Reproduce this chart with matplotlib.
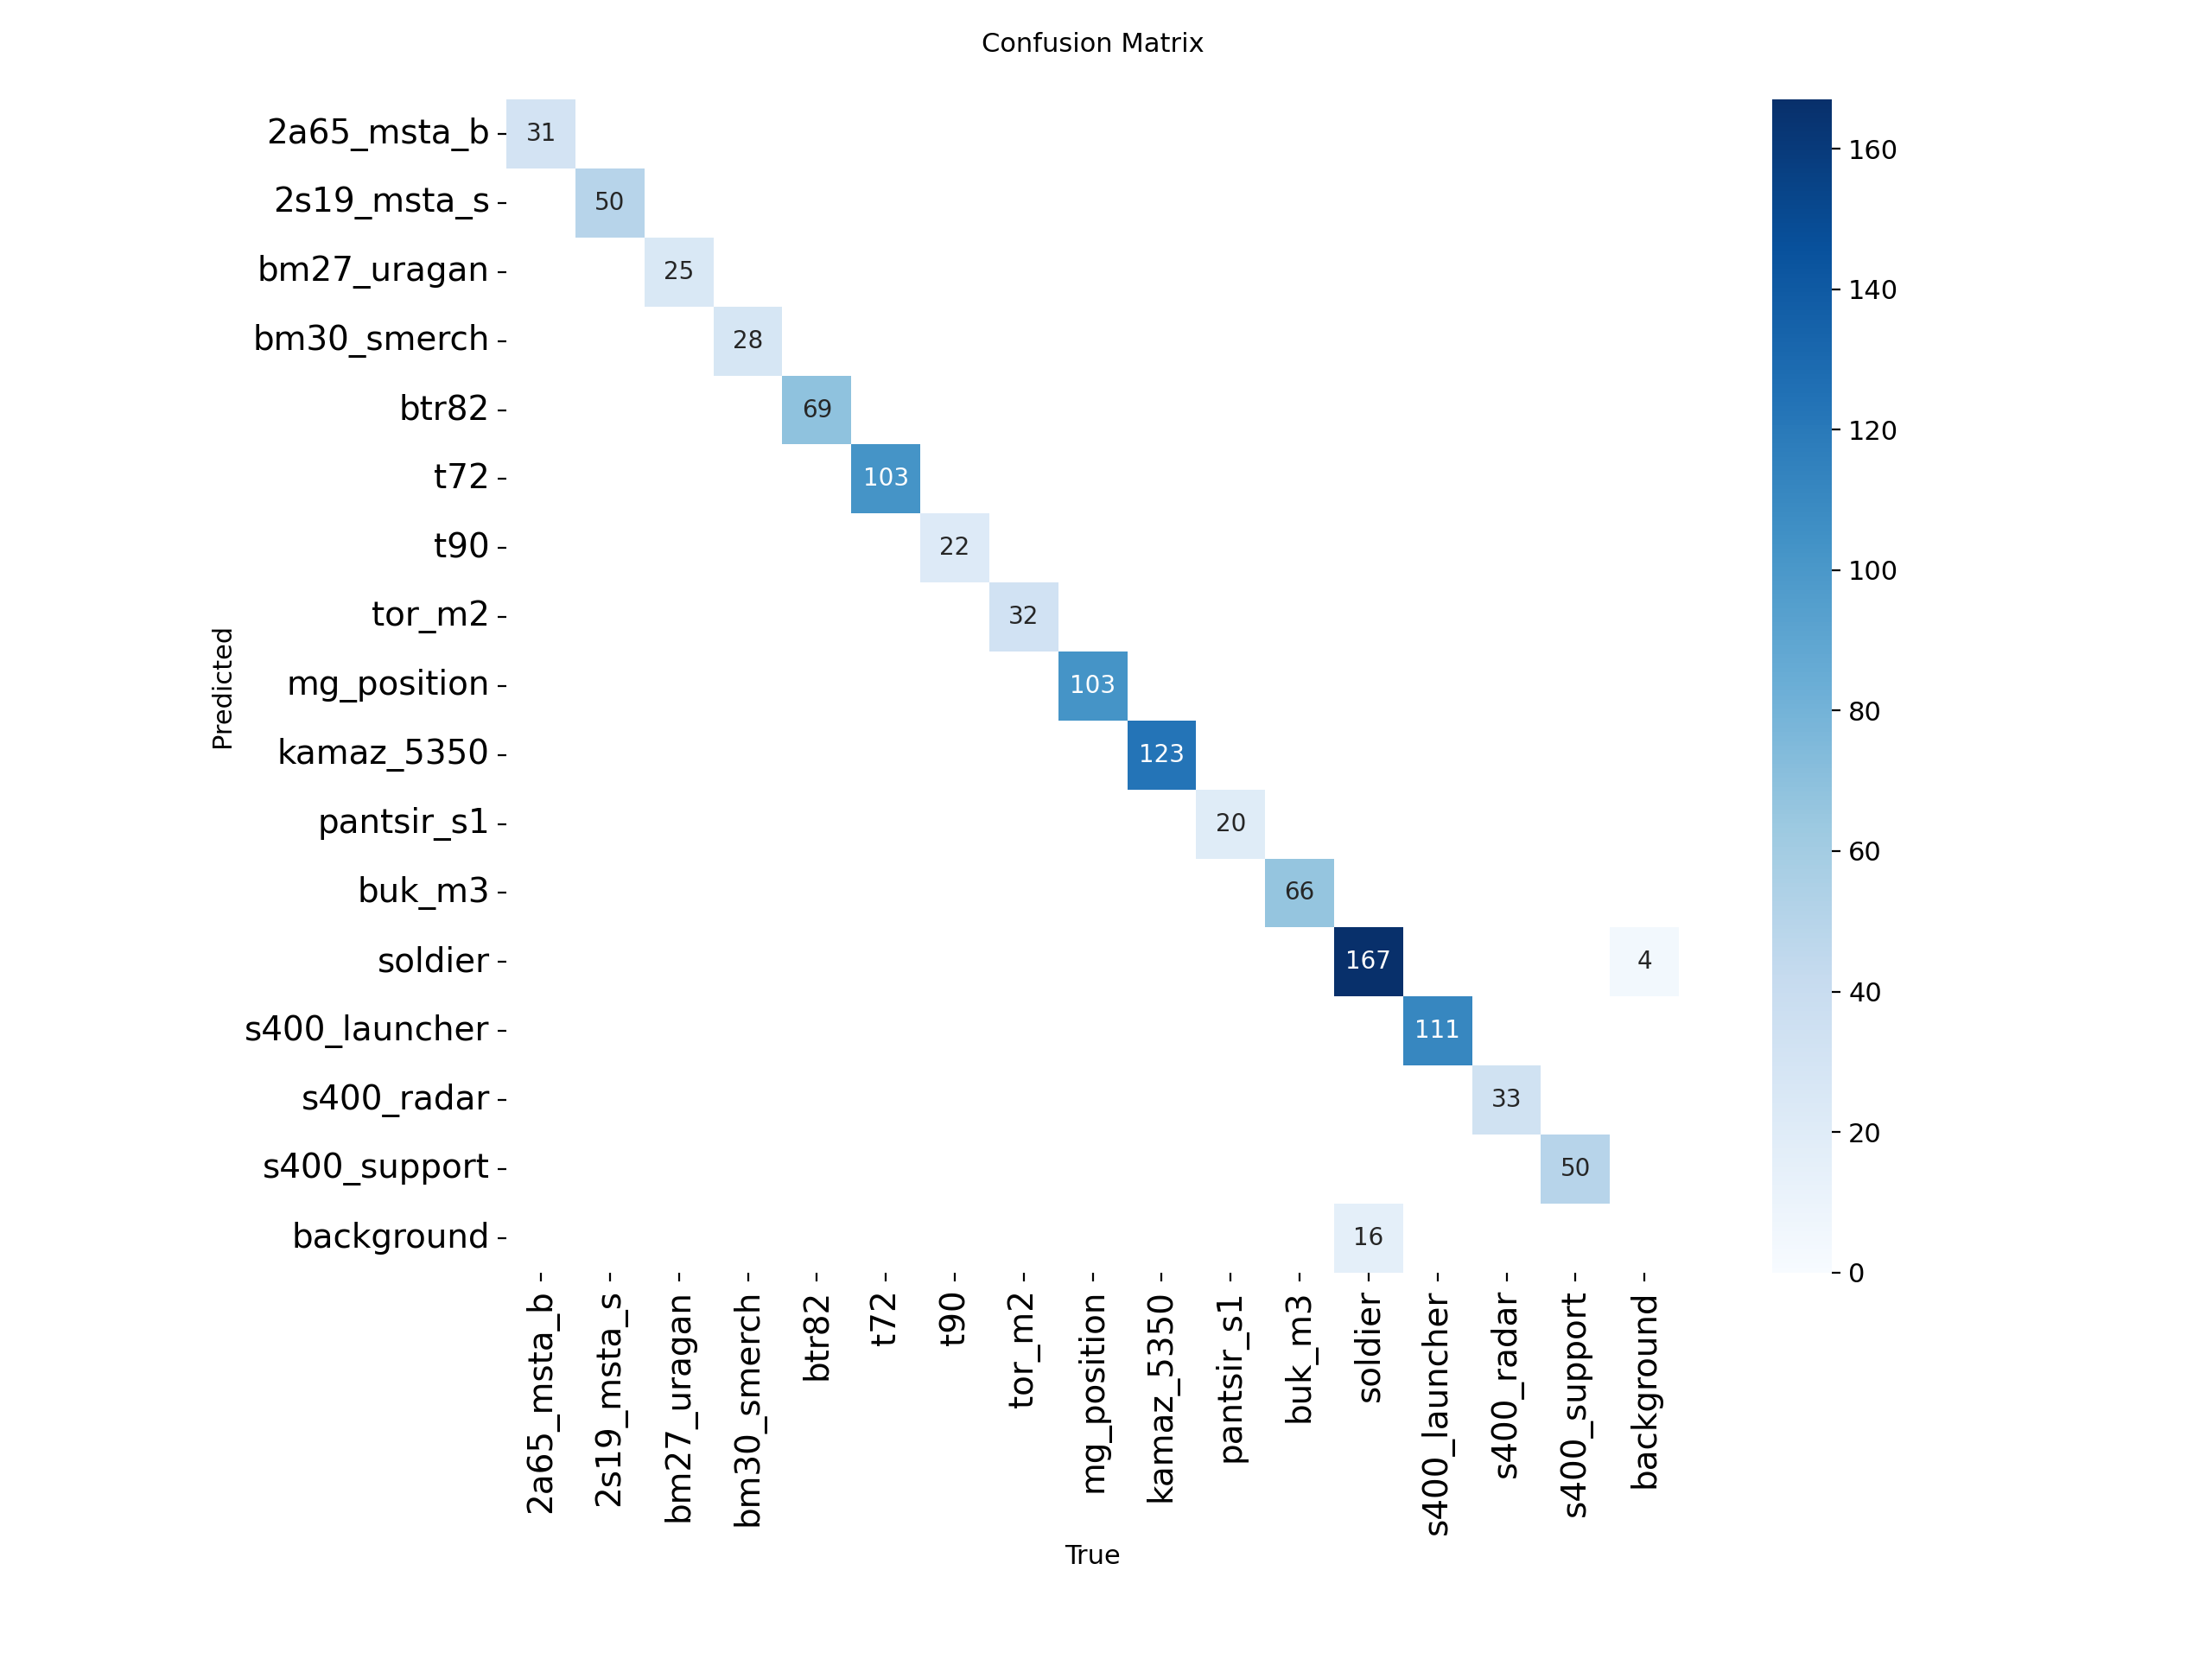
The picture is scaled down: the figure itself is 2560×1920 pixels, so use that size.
import numpy as np
import matplotlib
matplotlib.use("Agg")
import matplotlib.pyplot as plt
import seaborn as sns

names = ["2a65_msta_b", "2s19_msta_s", "bm27_uragan", "bm30_smerch", "btr82", "t72",
         "t90", "tor_m2", "mg_position", "kamaz_5350", "pantsir_s1", "buk_m3",
         "soldier", "s400_launcher", "s400_radar", "s400_support", "background"]

# diagonal counts (predicted == true)
diag = [31, 50, 25, 28, 69, 103, 22, 32, 103, 123, 20, 66, 167, 111, 33, 50, 0]
# off-diagonal entries: (predicted, true, count)
off = [("soldier", "background", 4), ("background", "soldier", 16)]

n = len(names)
m = np.zeros((n, n))
for i, v in enumerate(diag):
    m[i, i] = v
for p, t, v in off:
    m[names.index(p), names.index(t)] = v
m[m < 0.005] = np.nan

fig = plt.figure(figsize=(12.8, 9.6), dpi=200)
ax = fig.add_axes([0.229, 0.233, 0.530, 0.707])
cax = fig.add_axes([0.801, 0.233, 0.027, 0.707])
sns.heatmap(m, ax=ax, cbar_ax=cax, annot=True, annot_kws={"size": 10}, cmap="Blues",
            fmt=".0f", square=False, vmin=0.0, xticklabels=names, yticklabels=names)
ax.set_facecolor((1, 1, 1))
ax.tick_params(axis="both", labelsize=14)
ax.set_xticklabels(names, rotation=90, fontsize=14)
ax.set_yticklabels(names, rotation=0, fontsize=14)
cax.tick_params(labelsize=11)
ax.set_xlabel("True", fontsize=11)
ax.set_ylabel("Predicted", fontsize=11)
ax.set_title("Confusion Matrix", fontsize=11, pad=20)
fig.savefig("out.png", dpi=200)
